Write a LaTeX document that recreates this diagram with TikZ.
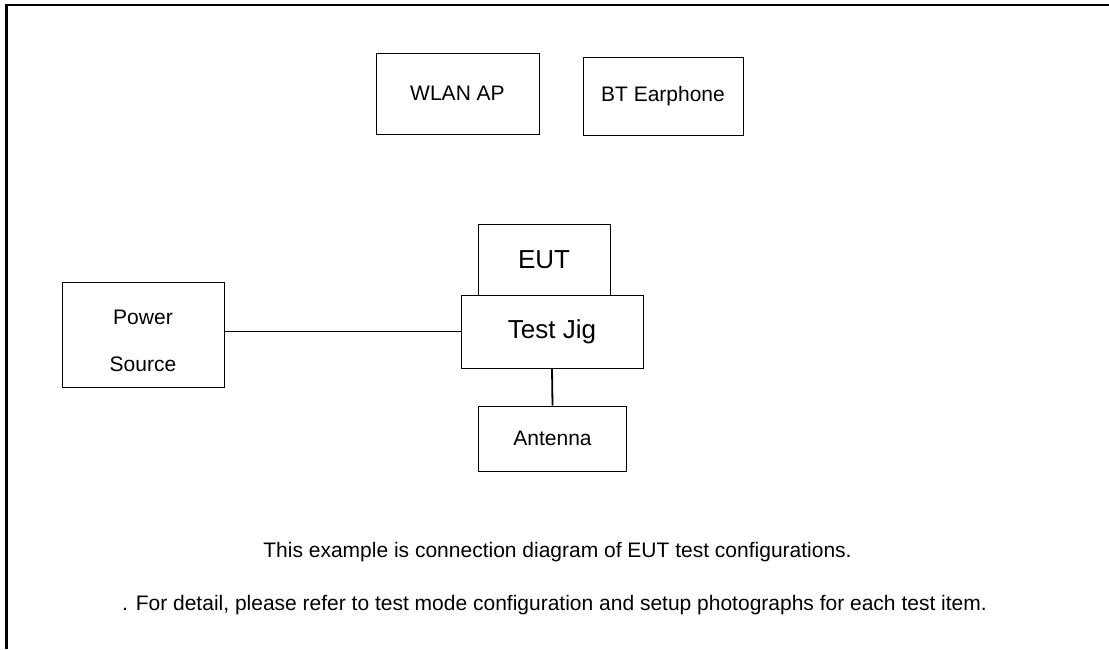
\documentclass[tikz,border=0pt]{standalone}
\usepackage{fontspec}
\setmainfont{Liberation Sans}
\usepackage{tikz}
\usetikzlibrary{positioning}
\tikzstyle{unit} = [draw=black, line width=1pt, inner sep=0pt, font=\fontsize{21}{25}\selectfont]
\tikzstyle{bigunit} = [unit, font=\fontsize{26}{30}\selectfont]
\tikzstyle{link} = [line width=1.8pt, -]
\tikzstyle{note} = [anchor=base, inner sep=0pt, font=\fontsize{21}{25}\selectfont]

\begin{document}
\begin{tikzpicture}[x=1pt, y=-1pt]
    \useasboundingbox (0, 0) rectangle (1109, 649);
    \draw [line width=2.5pt] (6.5, 649) -- (6.5, 5.2) -- (1109, 5.2);
    \node [unit, minimum width=163pt, minimum height=81pt] (wlan) at (457.5, 93.5) {WLAN AP};
    \node [unit, minimum width=160pt, minimum height=78pt] (bt) at (663, 96) {BT Earphone};
    \node [bigunit, minimum width=182pt, minimum height=73pt] (jig) at (552, 331.5) {Test Jig};
    \node [bigunit, minimum width=132pt, minimum height=71pt] (eut) at (544, 259.5) {EUT};
    \node [unit, minimum width=162pt, minimum height=105pt] (power) at (143, 334.5) {};
    \node [align=center, inner sep=0pt, font=\fontsize{21}{47}\selectfont] (powertext) at (143, 341) {Power\\Source};
    \node [unit, minimum width=148pt, minimum height=65pt] (antenna) at (552.5, 438.5) {Antenna};
    \draw [link] (jig.west -| power.east) -- (jig.west);
    \draw [link] (jig.south) -- (antenna.north);
    \node [note] (caption) at (557.5, 557) {This example is connection diagram of EUT test configurations.};
    \node [note] (detail) at (554.5, 610) {. For detail, please refer to test mode configuration and setup photographs for each test item.};
\end{tikzpicture}
\end{document}
